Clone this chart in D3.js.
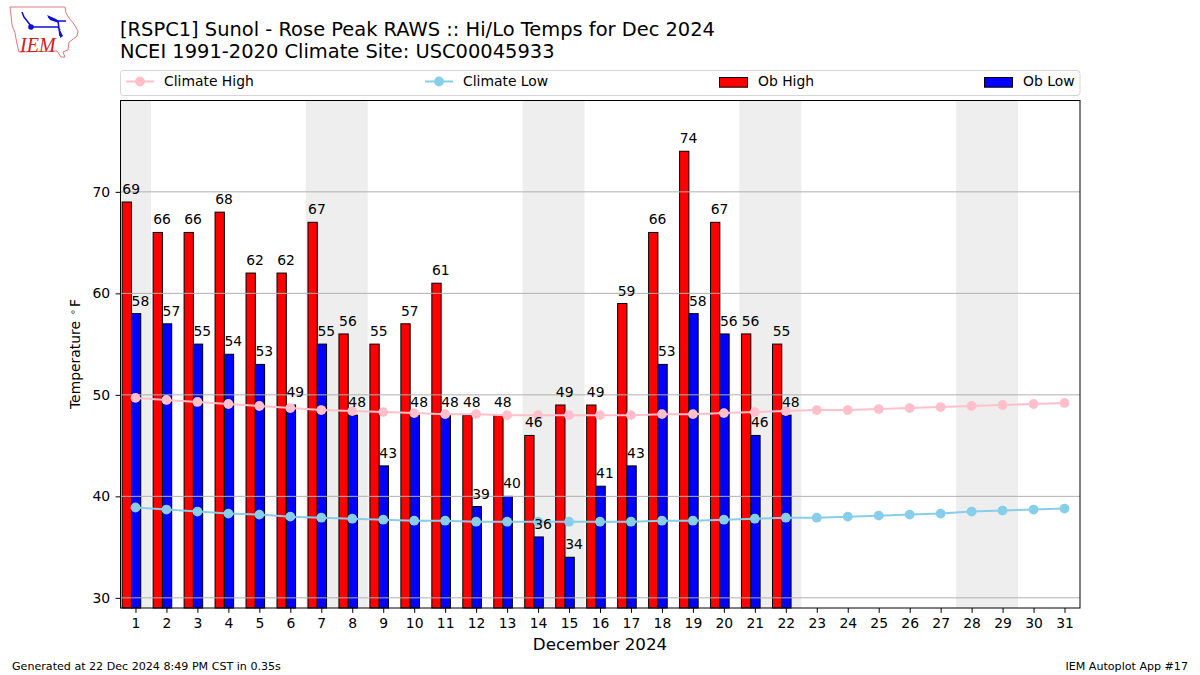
<!DOCTYPE html>
<html><head><meta charset="utf-8">
<script src="https://cdn.jsdelivr.net/npm/d3@7"></script>
<style>html,body{margin:0;padding:0;background:#fff}svg{display:block}text{font-family:"DejaVu Sans";fill:#000}</style>
</head><body><svg id="c" width="1200" height="675"></svg>
<script>
const days = d3.range(1, 32);
const obHigh = [69,66,66,68,62,62,67,56,55,57,61,48,48,46,49,49,59,66,74,67,56,55];
const obLow = [58,57,55,54,53,49,55,48,43,48,48,39,40,36,34,41,43,53,58,56,46,48];
const climateHigh = [49.7,49.5,49.3,49.1,48.9,48.7,48.5,48.4,48.3,48.2,48.1,48.1,48.0,48.0,48.0,48.0,48.0,48.1,48.1,48.2,48.3,48.4,48.5,48.5,48.6,48.7,48.8,48.9,49.0,49.1,49.2];
const climateLow = [38.9,38.7,38.5,38.3,38.2,38.0,37.9,37.8,37.7,37.6,37.6,37.5,37.5,37.5,37.5,37.5,37.5,37.6,37.6,37.7,37.8,37.9,37.9,38.0,38.1,38.2,38.3,38.5,38.6,38.7,38.8];
const weekends = [[0.5,1.5],[6.5,8.5],[13.5,15.5],[20.5,22.5],[27.5,29.5]];
const yTicks = [30,40,50,60,70];
const titleLines = ["[RSPC1] Sunol - Rose Peak RAWS :: Hi/Lo Temps for Dec 2024","NCEI 1991-2020 Climate Site: USC00045933"];

const svg = d3.select("#c");
const L=120,R=1080,T=100.5,B=608;
const x = d3.scaleLinear().domain([0.5,31.5]).range([L,R]);
const y = d3.scaleLinear().domain([29,79]).range([B,T]);
const W = x(0.3)-x(0);

// logo
const logo = svg.append("g");
logo.append("path").attr("d","M10,7 L65,7 L66,13 L69,18 L74,24 L78,31 L77,36 L72,40 L69,42 L68,50 L63,52 L65,57 L61,57 L57,51 L19,52 L17,44 L15,33 L12,25 L11,15 Z").attr("fill","none").attr("stroke","#e07a7a").attr("stroke-width",1);
logo.append("path").attr("d","M31,27 L58,27 L60,30 M58,21 L60,36 M22,12 L24,17 L31,26 M48,17 L58,21 L66,21").attr("fill","none").attr("stroke","#1010d0").attr("stroke-width",1.5);
logo.append("path").attr("d","M47,15 L56,19 L59,23 L50,20 Z M60,30 L63,36 L60,38 Z").attr("fill","#1010d0");
logo.append("circle").attr("cx",31).attr("cy",27).attr("r",2.8).attr("fill","#1010d0");
logo.append("text").attr("x",20).attr("y",52).attr("font-size",20).style("font-family","Liberation Serif").style("font-style","italic").style("fill","#d02020").text("IEM");

titleLines.forEach((t,i)=>svg.append("text").attr("x",120).attr("y",36+i*21.5).attr("font-size",19.45).text(t));

// axes background
const plot = svg.append("g");
plot.selectAll("rect.we").data(weekends).join("rect").attr("class","we")
 .attr("x",d=>x(d[0])).attr("width",d=>x(d[1])-x(d[0])).attr("y",T).attr("height",B-T).attr("fill","#eeeeee");

const bars=(vals,off,col)=>plot.append("g").selectAll("rect").data(vals).join("rect")
 .attr("x",(d,i)=>x(i+1+off)).attr("width",W).attr("y",d=>y(d)).attr("height",d=>B-y(d))
 .attr("fill",col).attr("stroke","#000").attr("stroke-width",1);
bars(obHigh,-0.43,"#ff0000");
bars(obLow,-0.13,"#0000ff");
plot.selectAll("line.g").data(yTicks).join("line").attr("class","g")
 .attr("x1",L).attr("x2",R).attr("y1",d=>y(d)).attr("y2",d=>y(d)).attr("stroke","#b0b0b0").attr("stroke-width",1);

const line=d3.line().x((d,i)=>x(i+1)).y(d=>y(d));
[[climateHigh,"#ffc0cb"],[climateLow,"#87ceeb"]].forEach(([v,c])=>{
 plot.append("path").attr("d",line(v)).attr("fill","none").attr("stroke",c).attr("stroke-width",2);
 plot.append("g").selectAll("circle").data(v).join("circle").attr("cx",(d,i)=>x(i+1)).attr("cy",d=>y(d)).attr("r",4.9).attr("fill",c);
});

const labels=(vals,off)=>plot.append("g").selectAll("text").data(vals).join("text")
 .attr("x",(d,i)=>x(i+1+off)).attr("y",d=>y(d)-8).attr("text-anchor","middle").attr("font-size",13.9).text(d=>d);
labels(obHigh,-0.14);
labels(obLow,0.16);

// frame
svg.append("rect").attr("x",L+.5).attr("y",T).attr("width",R-L-.5).attr("height",B-T).attr("fill","none").attr("stroke","#000").attr("stroke-width",1);

// axes
const gx=svg.append("g").attr("transform",`translate(0,${B})`).call(d3.axisBottom(x).tickValues(days).tickFormat(d3.format("d")).tickSize(4.9).tickPadding(4.9));
const gy=svg.append("g").attr("transform",`translate(${L+.5},0)`).call(d3.axisLeft(y).tickValues(yTicks).tickSize(4.9).tickPadding(5.4));
[gx,gy].forEach(g=>{g.select(".domain").remove();g.selectAll("text").attr("font-size",13.9).style("font-family","DejaVu Sans");g.selectAll("line").attr("stroke","#000");});

svg.append("text").attr("x",600).attr("y",649.5).attr("text-anchor","middle").attr("font-size",16.7).text("December 2024");
const yl=svg.append("text").attr("transform","translate(80,354) rotate(-90)").attr("text-anchor","middle").attr("font-size",13.9);
yl.append("tspan").text("Temperature");
yl.append("tspan").attr("dx",6).attr("dy",-4).attr("font-size",9.7).text("∘");
yl.append("tspan").attr("dx",2).attr("dy",4).text("F");

// legend
svg.append("rect").attr("x",120.5).attr("y",70.5).attr("width",959.5).attr("height",25).attr("rx",3).attr("fill","#fff").attr("stroke","#d5d5d5");
const lg=svg.append("g");
[["Climate High",126,"#ffc0cb"],["Climate Low",425,"#87ceeb"]].forEach(([t,x0,c])=>{
 lg.append("line").attr("x1",x0).attr("x2",x0+28).attr("y1",81.5).attr("y2",81.5).attr("stroke",c).attr("stroke-width",2);
 lg.append("circle").attr("cx",x0+14).attr("cy",81.5).attr("r",4.9).attr("fill",c);
 lg.append("text").attr("x",x0+38).attr("y",86).attr("font-size",13.9).text(t);
});
[["Ob High",719,"#ff0000"],["Ob Low",984,"#0000ff"]].forEach(([t,x0,c])=>{
 lg.append("rect").attr("x",x0+.5).attr("y",77.5).attr("width",28).attr("height",9.7).attr("fill",c).attr("stroke","#000");
 lg.append("text").attr("x",x0+39).attr("y",86).attr("font-size",13.9).text(t);
});

svg.append("text").attr("x",12).attr("y",670).attr("font-size",11.1).text("Generated at 22 Dec 2024 8:49 PM CST in 0.35s");
svg.append("text").attr("x",1188).attr("y",670).attr("text-anchor","end").attr("font-size",11.1).text("IEM Autoplot App #17");
</script></body></html>
